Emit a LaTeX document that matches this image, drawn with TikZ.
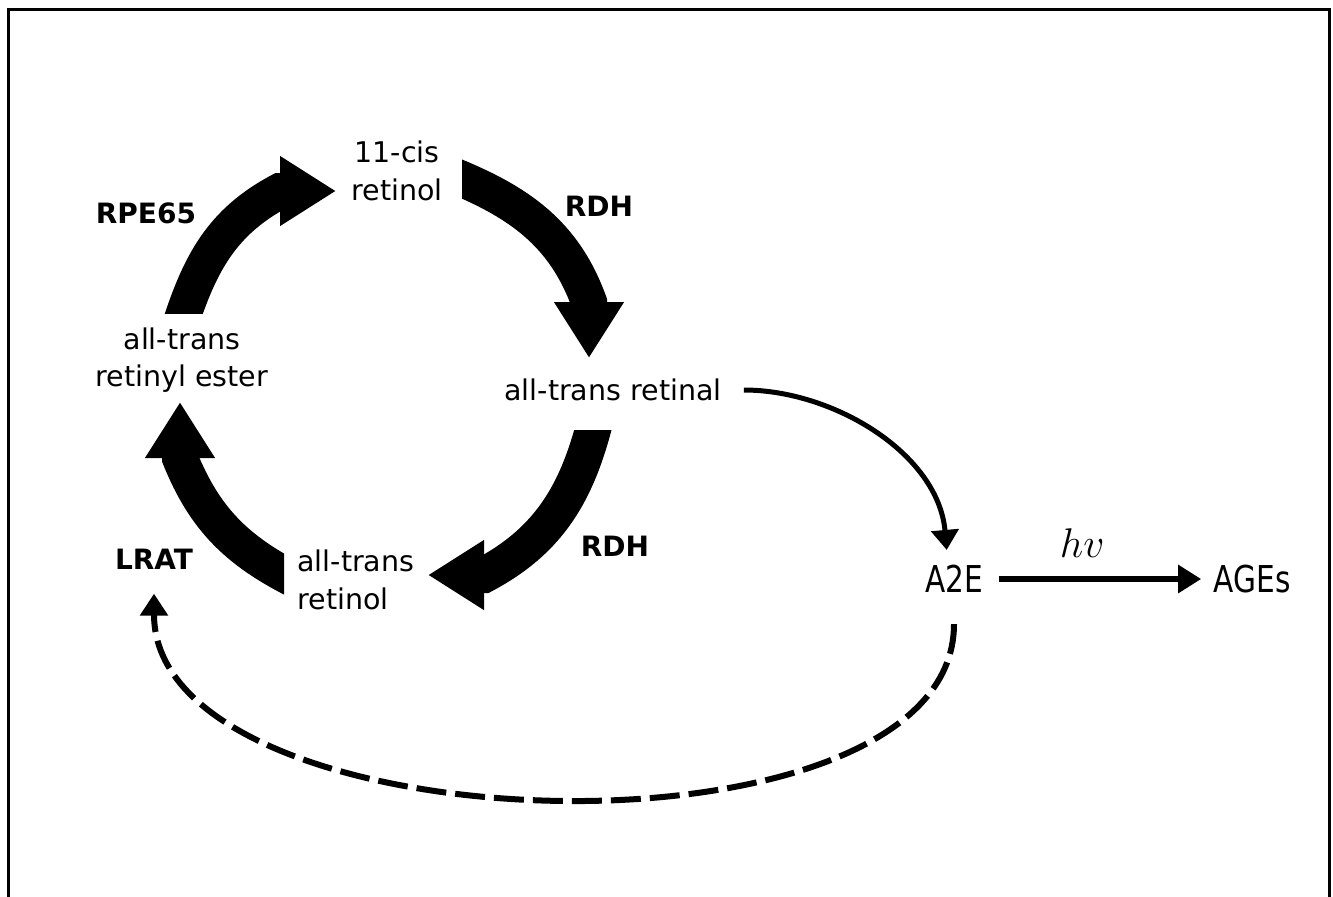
\documentclass[tikz,border=0pt]{standalone}
\usepackage{fontspec}
\setmainfont{DejaVu Sans}
\newfontfamily\narrowsans[FakeStretch=0.8]{DejaVu Sans}
\usepackage{tikz}
\usetikzlibrary{arrows.meta}

\begin{document}
\begin{tikzpicture}[
        x=0.5pt, y=-0.5pt,
        lbl/.style={inner sep=0pt, font=\fontsize{14.25}{18.7}\selectfont, align=center},
        enz/.style={inner sep=0pt, font=\fontsize{14}{18.5}\selectfont\bfseries},
        prod/.style={inner sep=0pt, font=\narrowsans\fontsize{18.5}{22}\selectfont},
        band/.style={line width=18pt, -{Triangle[length=28pt, width=33pt]}},
        arr/.style={line width=2.5pt, -{Triangle[length=10pt, width=13.5pt]}},
        hvarr/.style={line width=3pt, -{Triangle[length=11.5pt, width=13.5pt]}},
        back/.style={line width=3pt, dash pattern=on 15pt off 4.5pt,
                     -{Triangle[length=11pt, width=13.5pt]}},
      ]
        \useasboundingbox (0,0) rectangle (1333,896);
        \fill[white] (0,0) rectangle (1333,896);
        \draw[line width=1.5pt] (8.5,900) -- (8.5,9) -- (1329.5,9) -- (1329.5,900);

        \node[lbl] (cis) at (397,171) {11-cis\\retinol};
        \node[lbl] (retinal) at (613,390) {all-trans retinal};
        \node[lbl, align=left, anchor=west] (retinol) at (297,580) {all-trans\\retinol};
        \node[lbl] (ester) at (182,360) {all-trans\\retinyl ester};
        \node[enz] (rpe) at (146,213) {RPE65};
        \node[enz] (rdh1) at (599,206) {RDH};
        \node[enz] (rdh2) at (615,546) {RDH};
        \node[enz] (lrat) at (154,559) {LRAT};
        \node[prod] (a2e) at (954,579) {A2E};
        \node[prod] (ages) at (1252,579) {AGEs};

        \coordinate (rpeA) at (180,325);  \coordinate (rpeB) at (280,191);  \coordinate (rpeC) at (336,191);
        \coordinate (rdhA) at (450,174);  \coordinate (rdhB) at (589,302);  \coordinate (rdhC) at (589,358);
        \coordinate (rdhD) at (596,418);  \coordinate (rdhE) at (484,575);  \coordinate (rdhF) at (428,575);
        \coordinate (lratA) at (295,580); \coordinate (lratB) at (180,458); \coordinate (lratC) at (180,402);

        \begin{scope}
          \clip (0,0) rectangle (1333,313);
          \draw[band] (rpeA) to[out=72, in=208] (rpeB) -- (rpeC);
        \end{scope}
        \begin{scope}
          \clip (462,0) rectangle (1333,896);
          \draw[band] (rdhA) to[out=-22, in=110] (rdhB) -- (rdhC);
        \end{scope}
        \begin{scope}
          \clip (0,430) rectangle (1333,896);
          \draw[band] (rdhD) to[out=-104, in=28] (rdhE) -- (rdhF);
        \end{scope}
        \begin{scope}
          \clip (0,0) rectangle (284,896);
          \draw[band] (lratA) to[out=153, in=-68] (lratB) -- (lratC);
        \end{scope}

        \draw[arr, shorten <=11pt, shorten >=7.5pt] (retinal.east) to[out=0, in=95] ([xshift=-3pt]a2e.north);
        \draw[hvarr, shorten <=8pt, shorten >=6pt] (a2e.east) --
            node[pos=0.43, above=9.5pt, inner sep=0pt, font=\fontsize{21}{24}\selectfont] (hv) {$hv$} (ages.west);
        \draw[back, shorten <=15.5pt, shorten >=12pt] (a2e.south) .. controls +(0,280) and +(0,280) .. (lrat.south);
      \end{tikzpicture}
\end{document}
